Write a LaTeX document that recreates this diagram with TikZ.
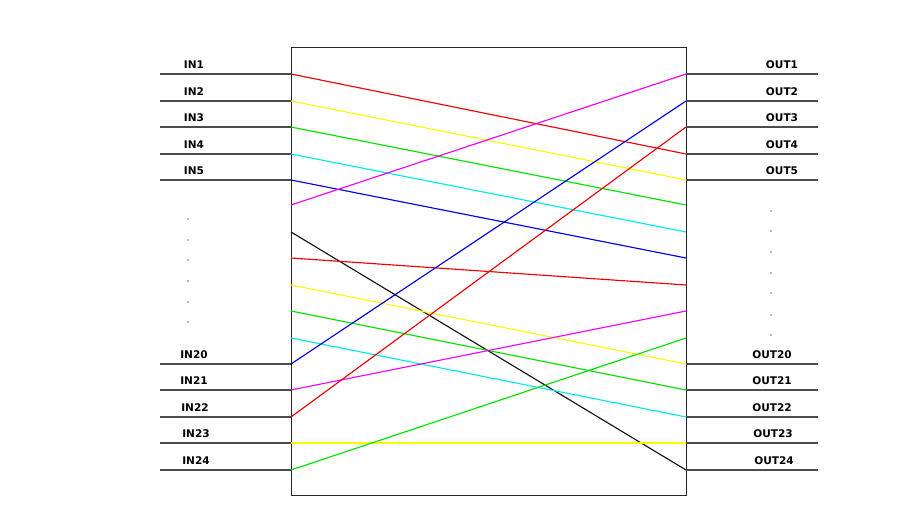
\documentclass[tikz,border=0pt]{standalone}
\usepackage{fontspec}
\setmainfont{DejaVu Sans}
\usetikzlibrary{positioning}
\definecolor{cRed}{RGB}{240,0,0}
\definecolor{cYellow}{RGB}{250,250,0}
\definecolor{cGreen}{RGB}{0,225,0}
\definecolor{cCyan}{RGB}{0,235,235}
\definecolor{cBlue}{RGB}{0,0,230}
\definecolor{cMagenta}{RGB}{240,0,240}
\definecolor{cBlack}{RGB}{20,20,20}
\tikzstyle{wire} = [draw, line width=0.85pt, black!70]
\tikzstyle{link} = [draw, line width=0.65pt]
\tikzstyle{port} = [font=\bfseries\fontsize{6}{7}\selectfont, inner sep=1pt, anchor=south]
\tikzstyle{dot} = [fill=black!55]

\begin{document}
\begin{tikzpicture}[x=0.02cm, y=-0.02cm]
\useasboundingbox (0,0) rectangle (909,514);
% crossbar box
\draw[line width=0.55pt, black!85] (291,47) rectangle (686,495);
\foreach \k/\y in {0/74,1/101,2/127,3/154,4/180,5/205,6/232,7/258,8/285,9/311,10/338,11/364,12/390,13/417,14/443,15/470} {
  \coordinate (l\k) at (291, \y);
  \coordinate (r\k) at (686, \y);
  \coordinate (a\k) at (160, \y);
  \coordinate (b\k) at (818, \y);
}
% inputs
\foreach \k/\y/\n/\x in {0/74/1/194,1/101/2/194,2/127/3/194,3/154/4/194,4/180/5/194,
  11/364/20/194,12/390/21/194,13/417/22/195,14/443/23/196,15/470/24/196} {
  \node[port] (in\n) at (\x, \y-3) {IN\n};
  \draw[wire] (a\k) -- (l\k);
}
% outputs
\foreach \k/\y/\n/\x in {0/74/1/782,1/101/2/782,2/127/3/782,3/154/4/782,4/180/5/782,
  11/364/20/772,12/390/21/772,13/417/22/772,14/443/23/773,15/470/24/774} {
  \node[port] (out\n) at (\x, \y-3) {OUT\n};
  \draw[wire] (r\k) -- (b\k);
}
% dots
\foreach \y in {219,240,260,281,302,322} \fill[dot] (188,\y) circle (0.5pt);
\foreach \y in {211,231,252,273,293,315,335} \fill[dot] (771,\y) circle (0.5pt);
% connections
\foreach \a/\b/\c in {0/3/cRed,1/4/cYellow,2/5/cGreen,3/6/cCyan,4/7/cBlue,5/0/cMagenta,6/15/cBlack,7/8/cRed,
  8/11/cYellow,9/12/cGreen,10/13/cCyan,11/1/cBlue,12/9/cMagenta,13/2/cRed,14/14/cYellow,15/10/cGreen}
  \draw[link, \c] (l\a) -- (r\b);
\end{tikzpicture}
\end{document}
